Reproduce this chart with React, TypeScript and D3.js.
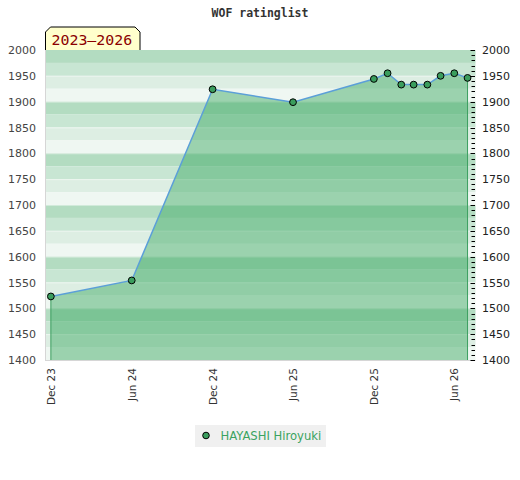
import * as d3 from "d3";

// rating history
const DATES = [
  "2023-12-01", "2024-06-01", "2024-12-01", "2025-06-01", "2025-12-01",
  "2026-01-01", "2026-02-01", "2026-03-01", "2026-04-01", "2026-05-01",
  "2026-06-01", "2026-07-01",
];
const RATINGS = [1523, 1554, 1924, 1899, 1944, 1955, 1933, 1933, 1933, 1950, 1955, 1946];

const X_TICKS = ["2023-12-01", "2024-06-01", "2024-12-01", "2025-06-01", "2025-12-01", "2026-06-01"];
const X_LABELS = ["Dec 23", "Jun 24", "Dec 24", "Jun 25", "Dec 25", "Jun 26"];
const Y_TICKS = [1400, 1450, 1500, 1550, 1600, 1650, 1700, 1750, 1800, 1850, 1900, 1950, 2000];
const BAND_COLORS = ["#b3dcc1", "#c8e6d3", "#ddeee3", "#eff7f2"];

const PLAYER = "HAYASHI Hiroyuki";
const TITLE = "WOF ratinglist";
const PERIOD = "2023\u20132026";

const W = 520, H = 480;
const L = 46, R = 475.5, T = 50, B = 360;

const parse = d3.utcParse("%Y-%m-%d");

export default function App() {
  const x = d3.scaleUtc()
    .domain([parse("2023-11-20")!, parse("2026-07-19")!])
    .range([L, R]);
  const y = d3.scaleLinear().domain([1400, 2000]).range([B, T]);

  const pts = DATES.map((d, i) => ({ date: parse(d)!, v: RATINGS[i] }));

  const area = d3.area<{ date: Date; v: number }>()
    .x((d) => x(d.date))
    .y0(y(1400))
    .y1((d) => y(d.v));
  const line = d3.line<{ date: Date; v: number }>()
    .x((d) => x(d.date))
    .y((d) => y(d.v));

  // bands of 25 points, cycling every 100 from the top
  const bands = d3.range(2000, 1400, -25).map((top, i) => ({
    top, bottom: top - 25, color: BAND_COLORS[i % 4],
  }));
  const minor = d3.range(1400, 2001, 10);

  const first = pts[0], last = pts[pts.length - 1];

  return (
    <svg width={W} height={H} style={{ position: "absolute", left: 0, top: 0 }}
      fontFamily="DejaVu Sans, sans-serif">
      <rect width={W} height={H} fill="#fff" />

      <text x={260} y={17} textAnchor="middle" fontFamily="DejaVu Sans Mono, monospace"
        fontWeight="bold" fontSize={11.5} fill="#333">{TITLE}</text>

      {bands.map((b) => (
        <rect key={b.top} x={L} y={y(b.top)} width={R - L} height={y(b.bottom) - y(b.top)} fill={b.color} />
      ))}
      {Y_TICKS.slice(1, -1).map((t) => (
        <line key={t} x1={L} x2={R} y1={y(t) + 0.5} y2={y(t) + 0.5} stroke="#fff" strokeOpacity={0.4} />
      ))}

      <path d={area(pts)!} fill="rgb(62,170,101)" fillOpacity={0.48} />
      <line x1={x(first.date)} x2={x(first.date)} y1={y(first.v)} y2={B} stroke="#3c9f60" />
      <line x1={x(last.date)} x2={x(last.date)} y1={y(last.v)} y2={B} stroke="#3c9f60" />
      <path d={line(pts)!} fill="none" stroke="#5b9fd8" strokeWidth={1.5} />

      {/* plot frame */}
      <line x1={L - 0.5} x2={L - 0.5} y1={T} y2={B + 1} stroke="#d6d6d6" />
      <line x1={L - 1} x2={R} y1={B + 0.5} y2={B + 0.5} stroke="#d6d6d6" />

      {pts.map((p, i) => (
        <circle key={i} cx={x(p.date)} cy={y(p.v)} r={3.4} fill="#3a9d5d" stroke="#000" strokeWidth={1} />
      ))}

      {/* right axis ticks */}
      {minor.map((t) => (
        <line key={t} x1={t % 50 === 0 ? R - 5 : R - 4} x2={R - 0.5} y1={Math.round(y(t)) + 0.5} y2={Math.round(y(t)) + 0.5}
          stroke="#000" />
      ))}

      {Y_TICKS.map((t) => (
        <g key={t}>
          <text x={36} y={y(t) + 4} textAnchor="end" fontSize={11} fill="#444">{t}</text>
          <text x={482} y={y(t) + 4} textAnchor="start" fontSize={11} fill="#222">{t}</text>
        </g>
      ))}

      {X_TICKS.map((d, i) => {
        const px = x(parse(d)!);
        return (
          <text key={d} transform={`translate(${px + 4},368) rotate(-90)`} textAnchor="end"
            fontSize={10.5} fill="#333">{X_LABELS[i]}</text>
        );
      })}

      {/* period badge */}
      <path d={`M${L - 0.5},${T} L${L - 0.5},${T - 18} L${L + 4.5},${T - 23} L${140 - 5},${T - 23} L140,${T - 18} L140,${T}`}
        fill="#ffffcc" stroke="#000" strokeWidth={1} />
      <text x={51.5} y={45} fontFamily="DejaVu Sans Mono, monospace" fontSize={14.9} fill="#8b0000">{PERIOD}</text>

      {/* legend */}
      <rect x={195} y={425} width={131} height={22} fill="#f0f0f0" />
      <circle cx={206} cy={435.5} r={3.3} fill="#3a9d5d" stroke="#000" strokeWidth={1} />
      <text x={220.5} y={440} fontSize={11.6} fill="#3aa35f">{PLAYER}</text>
    </svg>
  );
}
